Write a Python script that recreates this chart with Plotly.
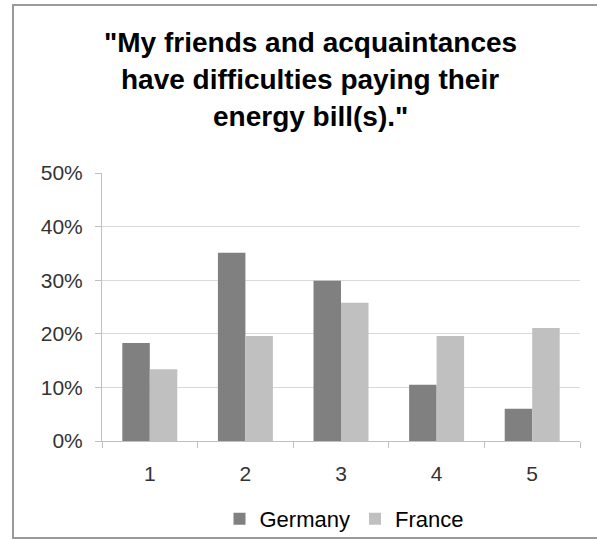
import plotly.graph_objects as go

# Survey answer scale (1 = fully agree ... 5 = fully disagree)
categories = ["1", "2", "3", "4", "5"]
germany = [0.183, 0.351, 0.299, 0.105, 0.060]
france = [0.134, 0.196, 0.258, 0.196, 0.211]
title_lines = [
    '"My friends and acquaintances',
    "have difficulties paying their",
    'energy bill(s)."',
]

FONT = "Liberation Sans, Arial, sans-serif"
W, H = 597, 539
L, R, T, B = 102, 17, 173, 98
PW, PH = W - L - R, H - T - B


def px_x(p):
    return (p - L) / PW


def px_y(p):
    return (H - B - p) / PH


fig = go.Figure()
fig.add_trace(go.Bar(name="Germany", x=categories, y=germany,
                     marker=dict(color="#808080", line=dict(width=0))))
fig.add_trace(go.Bar(name="France", x=categories, y=france,
                     marker=dict(color="#c0c0c0", line=dict(width=0))))

# Three-line heading, spaced like the original slide
for text, ypx in zip(title_lines, [42, 79, 116]):
    fig.add_annotation(text=f"<b>{text}</b>", xref="paper", yref="paper",
                       x=px_x(310), y=px_y(ypx), xanchor="center", yanchor="middle",
                       showarrow=False, font=dict(family=FONT, size=28, color="#000000"))

# Grey frame around the chart area
fig.add_shape(type="rect", xref="paper", yref="paper",
              x0=px_x(13), x1=px_x(605), y0=px_y(538), y1=px_y(5),
              line=dict(color="#9a9a9a", width=2), layer="below")

fig.update_layout(
    width=W, height=H,
    margin=dict(l=L, r=R, t=T, b=B, pad=0, autoexpand=False),
    paper_bgcolor="white", plot_bgcolor="white",
    barmode="group", bargap=0.425, bargroupgap=0,
    font=dict(family=FONT, size=21, color="#333333"),
    showlegend=True,
    legend=dict(orientation="h", x=px_x(344), y=px_y(519), xanchor="center",
                yanchor="middle", font=dict(family=FONT, size=22, color="#000000"),
                itemwidth=30, traceorder="normal", bgcolor="rgba(0,0,0,0)"),
)
fig.update_xaxes(
    type="category", showgrid=False, showline=True, linecolor="#bfbfbf", linewidth=1,
    ticks="outside", tickson="boundaries", ticklen=6, tickcolor="#bfbfbf",
    ticklabelstandoff=14,
    tickfont=dict(family=FONT, size=21, color="#333333"), fixedrange=True,
)
fig.update_yaxes(
    range=[0, 0.5], dtick=0.1, tickformat=".0%", showgrid=True, gridcolor="#d9d9d9",
    gridwidth=1, showline=True, linecolor="#bfbfbf", linewidth=1, zeroline=False,
    ticks="outside", ticklen=6, tickcolor="#bfbfbf", ticklabelstandoff=8,
    tickfont=dict(family=FONT, size=21, color="#333333"), fixedrange=True,
)

fig.write_html("out.html")
